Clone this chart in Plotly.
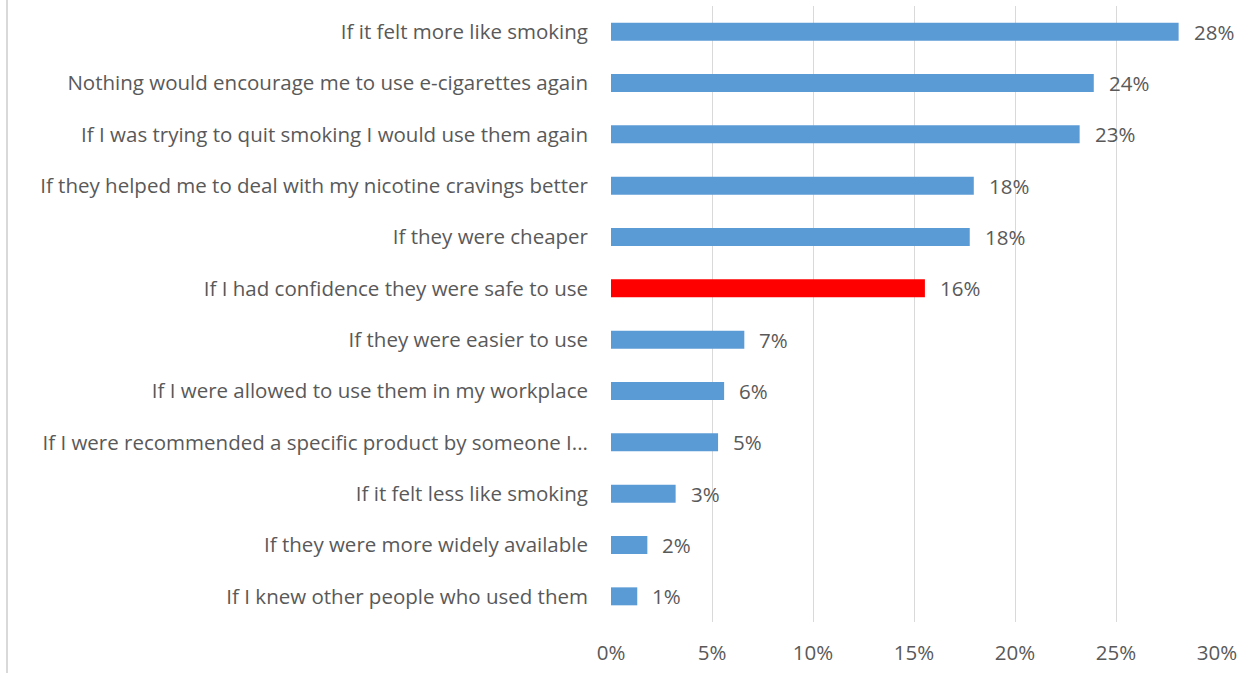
import plotly.graph_objects as go

categories = [
    "If it felt more like smoking",
    "Nothing would encourage me to use e-cigarettes again",
    "If I was trying to quit smoking I would use them again",
    "If they helped me to deal with my nicotine cravings better",
    "If they were cheaper",
    "If I had confidence they were safe to use",
    "If they were easier to use",
    "If I were allowed to use them in my workplace",
    "If I were recommended a specific product by someone I...",
    "If it felt less like smoking",
    "If they were more widely available",
    "If I knew other people who used them",
]
values = [28.1, 23.9, 23.2, 17.96, 17.76, 15.54, 6.6, 5.6, 5.3, 3.2, 1.8, 1.3]
value_labels = ["28%", "24%", "23%", "18%", "18%", "16%", "7%", "6%", "5%", "3%", "2%", "1%"]
highlight = "If I had confidence they were safe to use"
x_ticks = [0, 5, 10, 15, 20, 25, 30]
x_tick_labels = ["0%", "5%", "10%", "15%", "20%", "25%", "30%"]

colors = ["#ff0000" if c == highlight else "#5b9bd5" for c in categories]
font_family = "Open Sans"
text_color = "#595959"
fsize = 20.5

fig = go.Figure(go.Bar(
    x=values, y=categories, orientation="h",
    marker=dict(color=colors, line=dict(width=0)),
    hoverinfo="skip",
))

for c, v, t in zip(categories, values, value_labels):
    fig.add_annotation(x=v, y=c, text=t, showarrow=False, xanchor="left",
                       xshift=13, font=dict(family=font_family, size=fsize, color=text_color))

fig.update_layout(
    width=1243, height=673,
    margin=dict(l=611, r=24, t=6, b=51),
    paper_bgcolor="white", plot_bgcolor="white",
    bargap=0.65, showlegend=False,
    font=dict(family=font_family, size=fsize, color=text_color),
    xaxis=dict(range=[0, 30], tickvals=x_ticks, ticktext=x_tick_labels,
               showgrid=True, gridcolor="#d9d9d9", gridwidth=1, zeroline=False,
               showline=False, ticks="", ticklabelstandoff=16, fixedrange=True),
    yaxis=dict(autorange="reversed", showgrid=False, zeroline=False, showline=False,
               ticks="", ticklabelstandoff=22, fixedrange=True),
    shapes=[dict(type="line", xref="paper", yref="paper",
                 x0=(5 - 611) / 608, x1=(5 - 611) / 608, y0=-51 / 616, y1=1 + 6 / 616,
                 line=dict(color="#d9d9d9", width=2))],
)

fig.write_html("out.html", config={"displayModeBar": False},
               post_script="document.body.style.margin='0';document.body.style.overflow='hidden';")
